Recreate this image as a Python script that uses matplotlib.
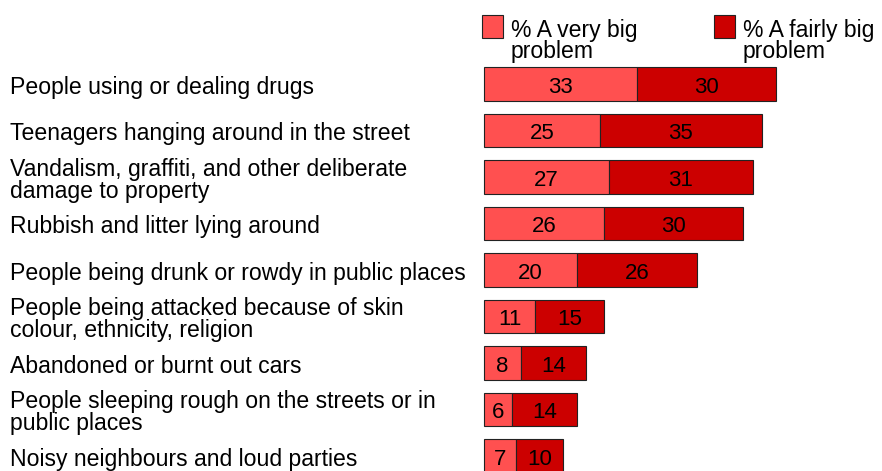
import matplotlib
matplotlib.use("Agg")
import matplotlib.pyplot as plt
from matplotlib.patches import Rectangle
import numpy as np

categories = [
    "People using or dealing drugs",
    "Teenagers hanging around in the street",
    "Vandalism, graffiti, and other deliberate\ndamage to property",
    "Rubbish and litter lying around",
    "People being drunk or rowdy in public places",
    "People being attacked because of skin\ncolour, ethnicity, religion",
    "Abandoned or burnt out cars",
    "People sleeping rough on the streets or in\npublic places",
    "Noisy neighbours and loud parties",
]
very_big = [33, 25, 27, 26, 20, 11, 8, 6, 7]
fairly_big = [30, 35, 31, 30, 26, 15, 14, 14, 10]
series_names = ["% A very big\nproblem", "% A fairly big\nproblem"]

c_light = "#FF5050"
c_dark = "#CC0000"
edge = "#222222"

plt.rcParams['font.family'] = ['Liberation Sans', 'DejaVu Sans']

W, H = 882, 471
fig = plt.figure(figsize=(W / 100, H / 100), dpi=100)
ax = fig.add_axes([0, 0, 1, 1])

# pixel mapping: x=484px -> 0, 4.63 px per unit; bar 0 centre at y=84px, 46.5 px step
px_unit = 4.63
x0 = 484
ax.set_xlim(-x0 / px_unit, (W - x0) / px_unit)
ax.set_ylim((H - 84) / 46.5, -84 / 46.5)
ax.axis("off")

y = np.arange(len(categories))
vb = np.array(very_big)
fb = np.array(fairly_big)
ax.barh(y, vb, height=0.71, color=c_light, edgecolor=edge, linewidth=0.8)
ax.barh(y, fb, left=vb, height=0.71, color=c_dark, edgecolor=edge, linewidth=0.8)

for i in range(len(categories)):
    ax.text(vb[i] / 2, y[i] + 0.07, str(vb[i]), ha="center", va="center", fontsize=16)
    ax.text(vb[i] + fb[i] / 2, y[i] + 0.07, str(fb[i]), ha="center", va="center", fontsize=16)
    ax.text(-x0 / px_unit + 10 / px_unit, y[i] + 0.07, categories[i], ha="left", va="center",
            fontsize=16.6, linespacing=0.92)

# legend drawn manually
for k, (col, name) in enumerate(zip([c_light, c_dark], series_names)):
    lx = [482, 714][k]
    fig.patches.append(Rectangle((lx / W, 1 - 38 / H), 21 / W, 23 / H,
                                 transform=fig.transFigure, facecolor=col,
                                 edgecolor=edge, linewidth=0.8))
    fig.text((lx + 29) / W, 1 - 41 / H, name, ha="left", va="center",
             fontsize=16.6, linespacing=0.9)

fig.savefig("out.png", dpi=100)
